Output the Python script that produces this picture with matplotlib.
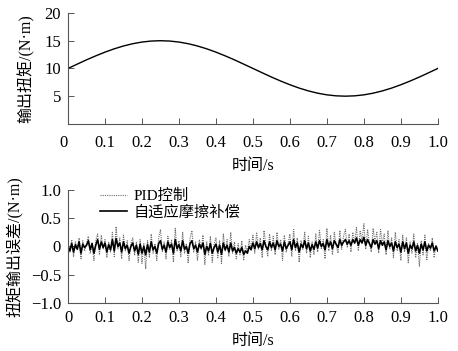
import numpy as np
import matplotlib
matplotlib.use("Agg")
import matplotlib.pyplot as plt

plt.rcParams['font.family'] = ['Liberation Serif', 'Noto Sans CJK SC']
plt.rcParams['axes.unicode_minus'] = True

# output torque (step 0.025 s)
torque = [10.0, 10.78, 11.55, 12.27, 12.94, 13.54, 14.05, 14.46, 14.76, 14.94, 15.0,
          14.94, 14.76, 14.46, 14.05, 13.54, 12.94, 12.27, 11.55, 10.78, 10.0,
          9.22, 8.45, 7.73, 7.06, 6.46, 5.95, 5.54, 5.24, 5.06, 5.0,
          5.06, 5.24, 5.54, 5.95, 6.46, 7.06, 7.73, 8.45, 9.22, 10.0]

# torque error, PID control (step 0.005 s)
err_pid = [
    0.02, -0.10, 0.12, -0.18, 0.08, -0.05, 0.15, -0.22, 0.10, -0.08,
    0.05, 0.18, -0.12, 0.06, -0.25, 0.10, 0.22, -0.15, 0.20, -0.05,
    0.12, -0.20, 0.08, -0.10, 0.25, -0.18, 0.35, -0.05, 0.15, -0.22,
    0.20, -0.08, 0.10, -0.25, 0.05, 0.15, -0.15, 0.08, -0.28, 0.12,
    -0.30, 0.05, -0.40, 0.10, -0.20, 0.22, -0.12, 0.05, -0.25, 0.15,
    0.30, -0.10, 0.08, -0.22, 0.18, -0.05, 0.12, -0.28, 0.32, -0.08,
    0.10, -0.18, 0.25, -0.12, 0.05, -0.30, 0.15, 0.28, -0.10, 0.08,
    -0.25, 0.12, -0.05, 0.20, -0.32, 0.08, -0.15, 0.18, -0.28, 0.05,
    0.15, -0.20, 0.10, -0.30, 0.22, -0.08, 0.12, -0.18, 0.25, -0.12,
    0.08, -0.22, 0.05, -0.15, 0.10, -0.25, 0.02, -0.10, 0.12, -0.05,
    0.20, -0.12, 0.25, -0.05, 0.15, -0.20, 0.28, 0.02, -0.18, 0.22,
    -0.08, 0.18, -0.15, 0.25, -0.05, 0.12, -0.25, 0.20, -0.10, 0.05,
    0.22, -0.18, 0.30, -0.08, 0.15, -0.28, 0.10, -0.05, 0.25, -0.12,
    0.18, -0.20, 0.08, -0.15, 0.22, -0.10, 0.30, -0.05, 0.12, -0.22,
    0.32, -0.08, 0.20, -0.15, 0.25, 0.02, -0.12, 0.28, -0.05, 0.18,
    0.30, -0.02, 0.22, -0.10, 0.25, 0.05, 0.35, -0.08, 0.28, 0.10,
    0.40, -0.05, 0.30, 0.05, -0.10, 0.32, 0.08, 0.25, -0.12, 0.30,
    0.05, 0.22, -0.15, 0.28, -0.05, 0.15, -0.20, 0.25, -0.08, 0.12,
    -0.25, 0.20, -0.10, 0.15, -0.30, 0.08, -0.12, 0.22, -0.20, 0.05,
    -0.35, 0.10, -0.15, 0.20, -0.25, 0.05, -0.08, 0.15, -0.20, 0.02,
    -0.05]

# torque error, adaptive friction compensation (step 0.005 s)
err_adapt = [
    0.00, -0.08, 0.05, -0.10, 0.03, -0.05, 0.08, -0.12, 0.04, -0.02,
    0.02, 0.10, -0.06, 0.05, -0.12, 0.02, 0.12, -0.05, 0.08, -0.02,
    0.06, -0.10, 0.03, -0.06, 0.12, -0.08, 0.14, 0.00, 0.06, -0.10,
    0.08, -0.04, 0.02, -0.12, 0.00, 0.06, -0.08, 0.02, -0.14, 0.04,
    -0.12, 0.00, -0.15, 0.03, -0.10, 0.08, -0.06, 0.00, -0.12, 0.05,
    0.10, -0.05, 0.02, -0.10, 0.08, -0.02, 0.04, -0.12, 0.12, -0.04,
    0.03, -0.08, 0.10, -0.05, 0.00, -0.12, 0.05, 0.10, -0.04, 0.02,
    -0.10, 0.04, -0.03, 0.06, -0.14, 0.00, -0.08, 0.05, -0.12, -0.02,
    0.04, -0.10, 0.02, -0.14, 0.06, -0.06, 0.02, -0.10, 0.06, -0.08,
    -0.02, -0.12, -0.04, -0.10, -0.02, -0.14, -0.08, -0.12, 0.00, -0.06,
    0.06, -0.04, 0.08, -0.02, 0.05, -0.06, 0.10, 0.00, -0.06, 0.08,
    -0.02, 0.06, -0.06, 0.10, 0.00, 0.04, -0.08, 0.08, -0.04, 0.02,
    0.08, -0.06, 0.12, -0.02, 0.06, -0.10, 0.04, -0.02, 0.10, -0.04,
    0.06, -0.08, 0.03, -0.05, 0.08, -0.03, 0.10, 0.00, 0.05, -0.06,
    0.12, 0.00, 0.08, -0.04, 0.10, 0.04, -0.02, 0.12, 0.02, 0.08,
    0.12, 0.04, 0.10, 0.02, 0.12, 0.06, 0.15, 0.02, 0.12, 0.06,
    0.16, 0.02, 0.12, 0.05, -0.02, 0.12, 0.04, 0.10, -0.04, 0.10,
    0.02, 0.08, -0.06, 0.10, 0.00, 0.06, -0.08, 0.08, -0.02, 0.04,
    -0.10, 0.08, -0.04, 0.06, -0.12, 0.02, -0.04, 0.08, -0.08, 0.02,
    -0.12, 0.04, -0.06, 0.08, -0.08, 0.02, -0.03, 0.06, -0.08, 0.00,
    -0.08]

xticks = [0, 0.1, 0.2, 0.3, 0.4, 0.5, 0.6, 0.7, 0.8, 0.9, 1.0]
xticklabels = ['0', '0.1', '0.2', '0.3', '0.4', '0.5', '0.6', '0.7', '0.8', '0.9', '1.0']

t1 = np.linspace(0, 1, len(torque))
t2 = np.linspace(0, 1, len(err_pid))

fig = plt.figure(figsize=(4.58, 3.51), dpi=100)
ax1 = fig.add_axes([0.1485, 0.647, 0.8075, 0.316])
ax2 = fig.add_axes([0.1485, 0.137, 0.8075, 0.322])

ax1.plot(t1, torque, color='black', lw=1.0)
ax1.set_ylim(0, 20)
ax1.set_yticks([5, 10, 15, 20])
ax1.set_ylabel('输出扭矩/(N·m)', fontsize=11.5, labelpad=7)

ax2.plot(t2, err_pid, color='#6e6e6e', lw=0.8, ls=(0, (1, 1)), label='PID控制')
ax2.plot(t2, err_adapt, color='black', lw=1.2, label='自适应摩擦补偿')
ax2.set_ylim(-1, 1)
ax2.set_yticks([1.0, 0.5, 0, -0.5, -1.0])
ax2.set_yticklabels(['1.0', '0.5', '0', '\u22120.5', '\u22121.0'])
ax2.set_ylabel('扭矩输出误差/(N·m)', fontsize=11.5, labelpad=5)
ax2.legend(loc='upper left', bbox_to_anchor=(0.05, 1.13), frameon=False,
           fontsize=11, handlelength=1.75, handletextpad=0.45, labelspacing=0.15)

for ax, pad in ((ax1, 8), (ax2, 5)):
    ax.set_xlim(0, 1)
    ax.set_xticks(xticks)
    ax.set_xticklabels(xticklabels)
    ax.set_xlabel('时间/s', fontsize=11.5, labelpad=5)
    for s in ('top', 'right'):
        ax.spines[s].set_visible(False)
    for s in ('left', 'bottom'):
        ax.spines[s].set_color('#555555')
        ax.spines[s].set_linewidth(0.8)
    ax.tick_params(direction='in', length=4, width=0.7, color='#555555',
                   labelsize=12, pad=5)
    ax.tick_params(axis='x', pad=pad)
ax1.get_xticklabels()[0].set_ha('right')

fig.savefig('out.png', dpi=100)
